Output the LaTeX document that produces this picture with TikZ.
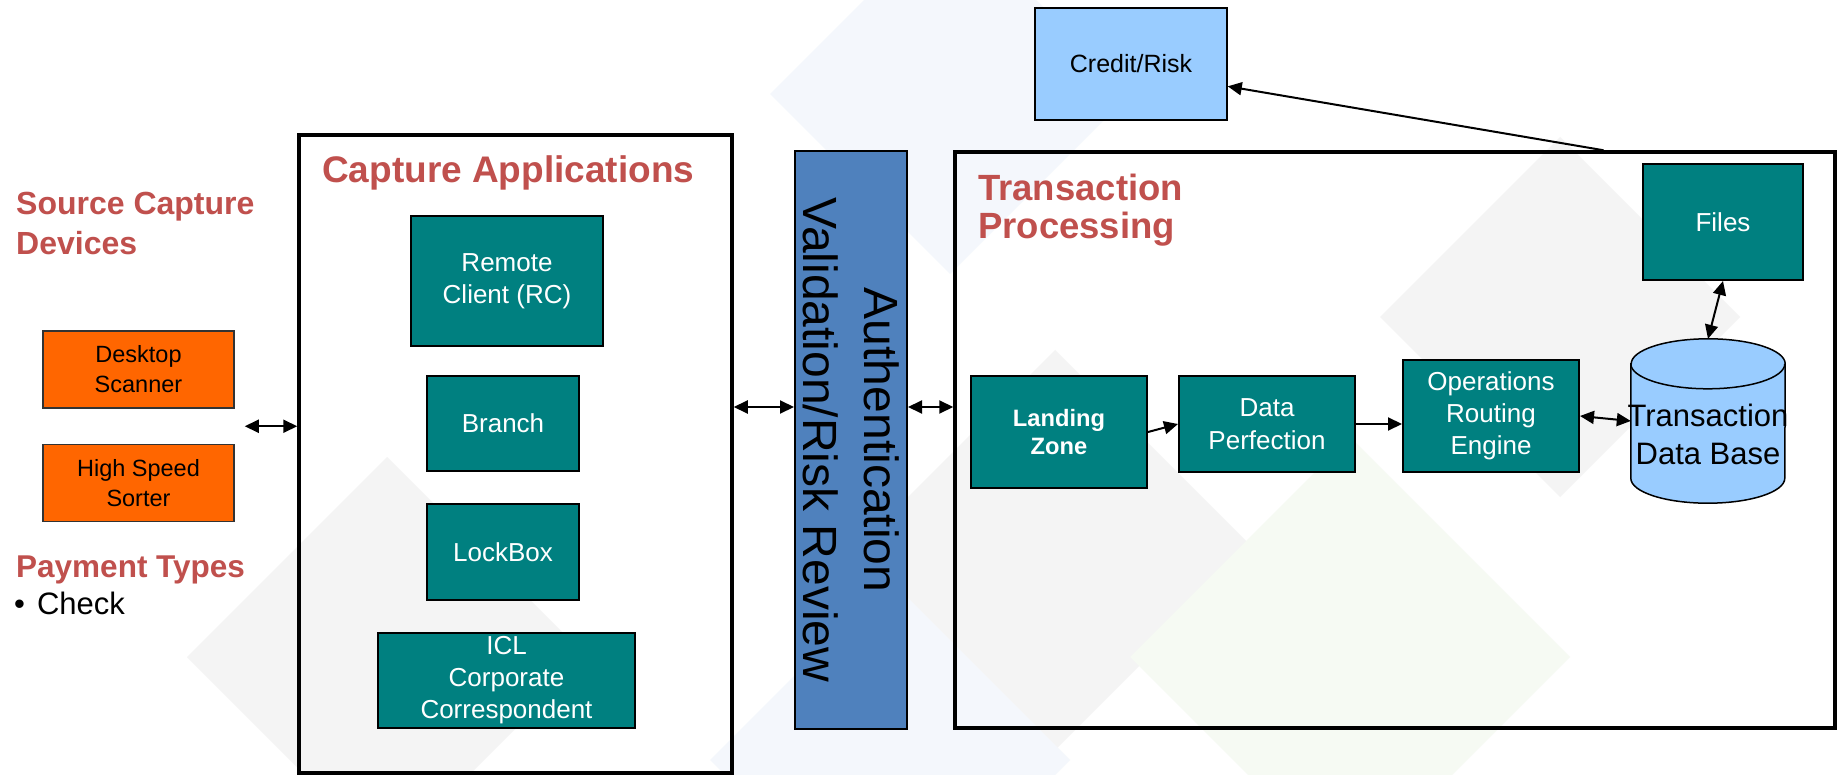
\documentclass[tikz,border=0pt]{standalone}
\usepackage{fontspec}
\setmainfont{Liberation Sans}
\usetikzlibrary{positioning,arrows.meta,calc}

\definecolor{tealbox}{HTML}{008080}
\definecolor{orangebox}{HTML}{FF6600}
\definecolor{skybox}{HTML}{99CCFF}
\definecolor{authblue}{HTML}{4F81BD}
\definecolor{titlered}{HTML}{C0504D}
\definecolor{bggray}{HTML}{F4F4F4}
\definecolor{bgblue}{HTML}{F4F7FC}
\definecolor{bggreen}{HTML}{F6FAF3}

\tikzset{
  fsz/.style 2 args={font=\fontsize{#1}{#2}\selectfont},
  appbox/.style={draw=black, line width=2pt, fill=tealbox, text=white, align=center, inner sep=0pt, fsz={26}{32}},
  devbox/.style={draw=black!80, line width=1.5pt, fill=orangebox, text=black, align=center, inner sep=0pt, fsz={23.5}{30}},
  frame/.style={draw=black, line width=3.5pt, inner sep=0pt},
  title/.style={text=titlered, inner sep=0pt, align=left},
  arr/.style={-{Triangle[length=14pt,width=13pt]}, line width=2pt},
  dbl/.style={{Triangle[length=14pt,width=13pt]}-{Triangle[length=14pt,width=13pt]}, line width=2pt},
}

\begin{document}
\begin{tikzpicture}[x=1pt, y=-1pt]
\useasboundingbox (0,0) rectangle (1839,775);
\fill[white] (0,0) rectangle (1839,775);
%background tiles
\foreach \cx/\cy/\r/\col in {387/657/200/bggray, 950/94/180/bgblue, 1055/550/200/bggray, 890/760/180/bgblue, 1350/657/220/bggreen, 1560/317/180/bggray}
  \fill[\col] (\cx-\r,\cy) -- (\cx,\cy-\r) -- (\cx+\r,\cy) -- (\cx,\cy+\r) -- cycle;

%source devices
\node[title, font=\bfseries\fontsize{32}{40}\selectfont, anchor=north west] (srctitle) at (16,192) {Source Capture\\Devices};
\node[devbox, minimum width=191pt, minimum height=77pt] (desk) at (138.5,369.5) {Desktop\\Scanner};
\node[devbox, minimum width=191pt, minimum height=77pt, below=35pt of desk] (sorter) {High Speed\\Sorter};
\node[title, font=\bfseries\fontsize{31.5}{38}\selectfont, anchor=base west] (paytitle) at (16,577) {Payment Types};
\node[fsz={31}{38}, anchor=base west, inner sep=0pt] (check) at (14,614) {\textbullet\hspace{12pt}Check};

%capture applications
\node[frame, minimum width=433pt, minimum height=638pt] (capture) at (515.5,454) {};
\node[title, font=\bfseries\fontsize{37}{44}\selectfont, anchor=base west] (captitle) at (322,183) {Capture Applications};
\node[appbox, minimum width=192pt, minimum height=130pt] (rc) at (507,281) {Remote\\Client (RC)};
\node[appbox, minimum width=152pt, minimum height=95pt] (branch) at (503,423.5) {Branch};
\node[appbox, minimum width=152pt, minimum height=96pt] (lockbox) at (503,552) {LockBox};
\node[appbox, minimum width=257pt, minimum height=95pt] (icl) at (506.5,680.5) {ICL\\Corporate\\Correspondent};

%authentication
\node[draw, line width=2pt, fill=authblue, minimum width=112pt, minimum height=578pt, inner sep=0pt] (auth) at (851,440) {};
\node[rotate=-90, fsz={48}{61}, align=center, inner sep=0pt] (authtext) at (auth.center) {Authentication\\Validation/Risk Review};

%transaction processing
\node[frame, minimum width=880pt, minimum height=576pt] (tp) at (1395,440) {};
\node[title, font=\bfseries\fontsize{36.5}{38}\selectfont, anchor=north west] (tptitle) at (978,174) {Transaction\\Processing};
\node[appbox, font=\bfseries\fontsize{23.7}{28}\selectfont, minimum width=176pt, minimum height=112pt] (lz) at (1059,432) {Landing\\Zone};
\node[appbox, fsz={26}{33}, minimum width=176pt, minimum height=96pt] (dp) at (1267,424) {Data\\Perfection};
\node[appbox, minimum width=176pt, minimum height=112pt] (ore) at (1491,416) {Operations\\Routing\\Engine};
\node[appbox, minimum width=160pt, minimum height=116pt] (files) at (1723,222) {Files};
%data base cylinder
\node[minimum width=154pt, minimum height=164pt, inner sep=0pt] (db) at (1708,421) {};
\path[draw, fill=skybox, line width=1.5pt] ([yshift=-25pt]db.north west) -- ([yshift=25pt]db.south west)
  arc[start angle=180, end angle=360, x radius=77pt, y radius=25pt] -- ([yshift=-25pt]db.north east)
  arc[start angle=0, end angle=180, x radius=77pt, y radius=25pt] -- cycle;
\draw[line width=1.5pt] ([yshift=-25pt]db.north west) arc[start angle=180, end angle=360, x radius=77pt, y radius=25pt];
\node[fsz={31}{38}, align=center, inner sep=0pt] (dbtext) at ([yshift=-13pt]db.center) {Transaction\\Data Base};
\node[draw, line width=1.5pt, fill=skybox, minimum width=192pt, minimum height=112pt, fsz={25}{30}] (credit) at (1131,64) {Credit/Risk};

%links
\coordinate (devs) at ($(desk.south east)!.5!(sorter.north east)+(10,0)$);
\draw[dbl] (devs) -- (devs -| capture.west);
\coordinate (linky) at (0,407);
\draw[dbl] (capture.east |- linky) -- (auth.west |- linky);
\draw[dbl] (auth.east |- linky) -- (tp.west |- linky);
\draw[arr] (lz.east) -- (dp.west);
\draw[arr] (dp.east) -- (dp.east -| ore.west);
\draw[dbl] (ore.east) -- (db.west);
\draw[dbl] (files.south) -- (db.north);
\draw[arr] ($(tp.north west)!0.736!(tp.north east)$) -- (credit.-13.9);
\end{tikzpicture}
\end{document}
